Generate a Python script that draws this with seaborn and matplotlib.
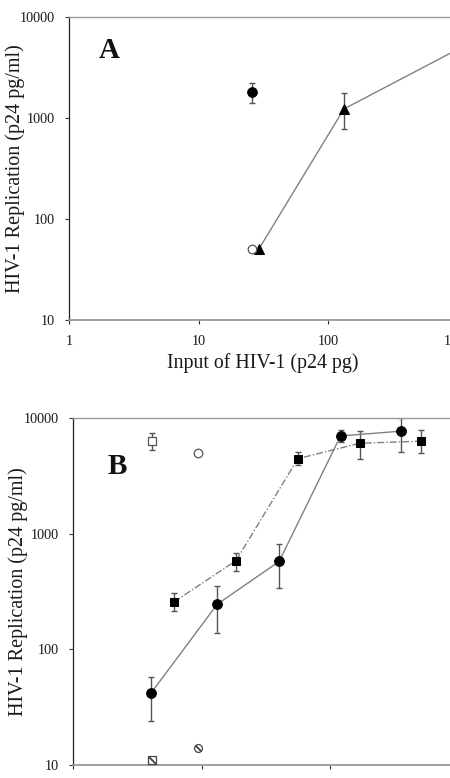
import numpy as np
import matplotlib
matplotlib.use("Agg")
import matplotlib.pyplot as plt
import seaborn as sns
from matplotlib.ticker import FixedLocator, FuncFormatter, NullLocator

sns.set_theme(style="white")
plt.rcParams['font.family'] = ['Liberation Serif', 'DejaVu Serif']

# ---- Panel A data ----
a_tri_x = [29, 132, 1000]
a_tri_y = [50, 1230, 4800]
a_tri_lo = [50, 780, 4800]
a_tri_hi = [50, 1750, 4800]
a_fc_x = [26]
a_fc_y = [1800]
a_fc_lo = [1420]
a_fc_hi = [2200]
a_oc_x = [26]
a_oc_y = [50]

# ---- Panel B data ----
b_circ_x = [4.05, 13.2, 40, 120, 357]
b_circ_y = [42, 245, 575, 7000, 7700]
b_circ_lo = [24, 138, 336, 6200, 5100]
b_circ_hi = [58, 350, 820, 7800, 10100]
b_sq_x = [6.1, 18.5, 56, 169, 510]
b_sq_y = [257, 585, 4450, 6050, 6300]
b_sq_lo = [215, 480, 3900, 4450, 5000]
b_sq_hi = [305, 680, 5100, 7700, 7800]
b_osq_x = [4.1]
b_osq_y = [6300]
b_osq_lo = [5300]
b_osq_hi = [7400]
b_oc_x = [9.4]
b_oc_y = [5000]
b_hsq_x = [4.1]
b_hsq_y = [11]
b_hc_x = [9.4]
b_hc_y = [14]

yticks = [10, 100, 1000, 10000]
xticks = [1, 10, 100, 1000]

W, H = 450, 778
fig = plt.figure(figsize=(W / 100, H / 100), dpi=100)
fig.patch.set_facecolor('white')

axA = fig.add_axes([69 / W, 1 - 320 / H, (458 - 69) / W, (320 - 17) / H])
axB = fig.add_axes([73 / W, 1 - 765 / H, (459 - 73) / W, (765 - 418) / H])

LINE = '#808080'
ERR = '#555555'

def style_axes(ax, show_xlabels):
    ax.set_xscale('log')
    ax.set_yscale('log')
    ax.set_xlim(1, 1000)
    ax.set_ylim(10, 10000)
    ax.set_facecolor('white')
    ax.grid(False)
    ax.yaxis.set_major_locator(FixedLocator(yticks))
    ax.yaxis.set_minor_locator(NullLocator())
    ax.xaxis.set_major_locator(FixedLocator(xticks))
    ax.xaxis.set_minor_locator(NullLocator())
    fmt = FuncFormatter(lambda v, p: '%d' % round(v))
    ax.yaxis.set_major_formatter(fmt)
    ax.xaxis.set_major_formatter(fmt)
    ax.tick_params(axis='both', which='major', direction='out', length=3,
                   width=0.8, color='#333333', labelsize=10.3,
                   labelcolor='#1a1a1a', left=True, bottom=True)
    ax.tick_params(axis='y', pad=7)
    ax.tick_params(axis='x', labelbottom=show_xlabels, pad=8)
    ax.spines['left'].set_color('#222222')
    ax.spines['left'].set_linewidth(0.9)
    ax.spines['top'].set_color('#9a9a9a')
    ax.spines['top'].set_linewidth(1.0)
    ax.spines['top'].set_linestyle((0, (6, 1)))
    ax.spines['bottom'].set_color('#999999')
    ax.spines['bottom'].set_linewidth(1.3)
    ax.spines['right'].set_visible(False)

# ---- Panel A ----
style_axes(axA, True)
sns.lineplot(x=a_tri_x, y=a_tri_y, ax=axA, color=LINE, lw=1.0,
             marker='^', markersize=7, markerfacecolor='black',
             markeredgecolor='black', estimator=None, sort=False, zorder=3)
axA.errorbar(a_tri_x[1:2], a_tri_y[1:2],
             yerr=[[a_tri_y[1] - a_tri_lo[1]], [a_tri_hi[1] - a_tri_y[1]]],
             fmt='none', ecolor=ERR, elinewidth=1.0, capsize=2.5, capthick=1.0, zorder=2)
axA.errorbar(a_fc_x, a_fc_y,
             yerr=[[a_fc_y[0] - a_fc_lo[0]], [a_fc_hi[0] - a_fc_y[0]]],
             fmt='none', ecolor=ERR, elinewidth=1.0, capsize=2.5, capthick=1.0, zorder=2)
sns.scatterplot(x=a_fc_x, y=a_fc_y, ax=axA, marker='o', s=50, color='black',
                edgecolor='black', zorder=4)
sns.scatterplot(x=a_oc_x, y=a_oc_y, ax=axA, marker='o', s=38, facecolor='white',
                edgecolor='#555555', linewidth=0.9, zorder=4)
axA.set_xlabel('Input of HIV-1 (p24 pg)', fontsize=14.3, color='#1a1a1a')
axA.set_ylabel('HIV-1 Replication (p24 pg/ml)', fontsize=14.5, color='#1a1a1a')
axA.yaxis.set_label_coords(-0.112, 0.5)
axA.xaxis.set_label_coords((263 - 69) / 389, -0.108)
axA.text((109 - 69) / 389, 1 - (51 - 17) / 303, 'A', transform=axA.transAxes,
         fontsize=21, fontweight='bold', ha='center', va='center', color='#111111')

# ---- Panel B ----
style_axes(axB, False)
sns.lineplot(x=b_circ_x, y=b_circ_y, ax=axB, color=LINE, lw=1.0,
             marker='o', markersize=7, markerfacecolor='black',
             markeredgecolor='black', estimator=None, sort=False, zorder=3)
axB.errorbar(b_circ_x, b_circ_y,
             yerr=[np.array(b_circ_y) - np.array(b_circ_lo),
                   np.array(b_circ_hi) - np.array(b_circ_y)],
             fmt='none', ecolor=ERR, elinewidth=1.0, capsize=2.5, capthick=1.0, zorder=2)
sns.lineplot(x=b_sq_x, y=b_sq_y, ax=axB, color=LINE, lw=1.0,
             linestyle=(0, (5, 1.5, 1, 1.5)),
             marker='s', markersize=6, markerfacecolor='black',
             markeredgecolor='black', estimator=None, sort=False, zorder=3)
axB.errorbar(b_sq_x, b_sq_y,
             yerr=[np.array(b_sq_y) - np.array(b_sq_lo),
                   np.array(b_sq_hi) - np.array(b_sq_y)],
             fmt='none', ecolor=ERR, elinewidth=1.0, capsize=2.5, capthick=1.0, zorder=2)
axB.errorbar(b_osq_x, b_osq_y,
             yerr=[[b_osq_y[0] - b_osq_lo[0]], [b_osq_hi[0] - b_osq_y[0]]],
             fmt='none', ecolor=ERR, elinewidth=1.0, capsize=2, capthick=1.0, zorder=2)
sns.scatterplot(x=b_osq_x, y=b_osq_y, ax=axB, marker='s', s=30, facecolor='white',
                edgecolor='#555555', linewidth=0.9, zorder=4)
sns.scatterplot(x=b_oc_x, y=b_oc_y, ax=axB, marker='o', s=38, facecolor='white',
                edgecolor='#555555', linewidth=0.9, zorder=4)
sns.scatterplot(x=b_hsq_x, y=b_hsq_y, ax=axB, marker='s', s=30, facecolor='white',
                edgecolor='#444444', linewidth=0.9, zorder=4)
sns.scatterplot(x=b_hsq_x, y=b_hsq_y, ax=axB, marker=(2, 2, 45), s=30,
                color='#444444', linewidth=0.9, zorder=5)
sns.scatterplot(x=b_hc_x, y=b_hc_y, ax=axB, marker='o', s=32, facecolor='white',
                edgecolor='#444444', linewidth=0.9, zorder=4)
sns.scatterplot(x=b_hc_x, y=b_hc_y, ax=axB, marker=(2, 2, 45), s=28,
                color='#444444', linewidth=0.9, zorder=5)
axB.set_xlabel('')
axB.set_ylabel('HIV-1 Replication (p24 pg/ml)', fontsize=14.5, color='#1a1a1a')
axB.yaxis.set_label_coords(-0.117, 0.5)
axB.text((117 - 73) / 386, 1 - (467 - 418) / 347, 'B', transform=axB.transAxes,
         fontsize=21, fontweight='bold', ha='center', va='center', color='#111111')

for ax in (axA, axB):
    leg = ax.get_legend()
    if leg is not None:
        leg.remove()

fig.savefig('out.png', dpi=100, facecolor='white')
